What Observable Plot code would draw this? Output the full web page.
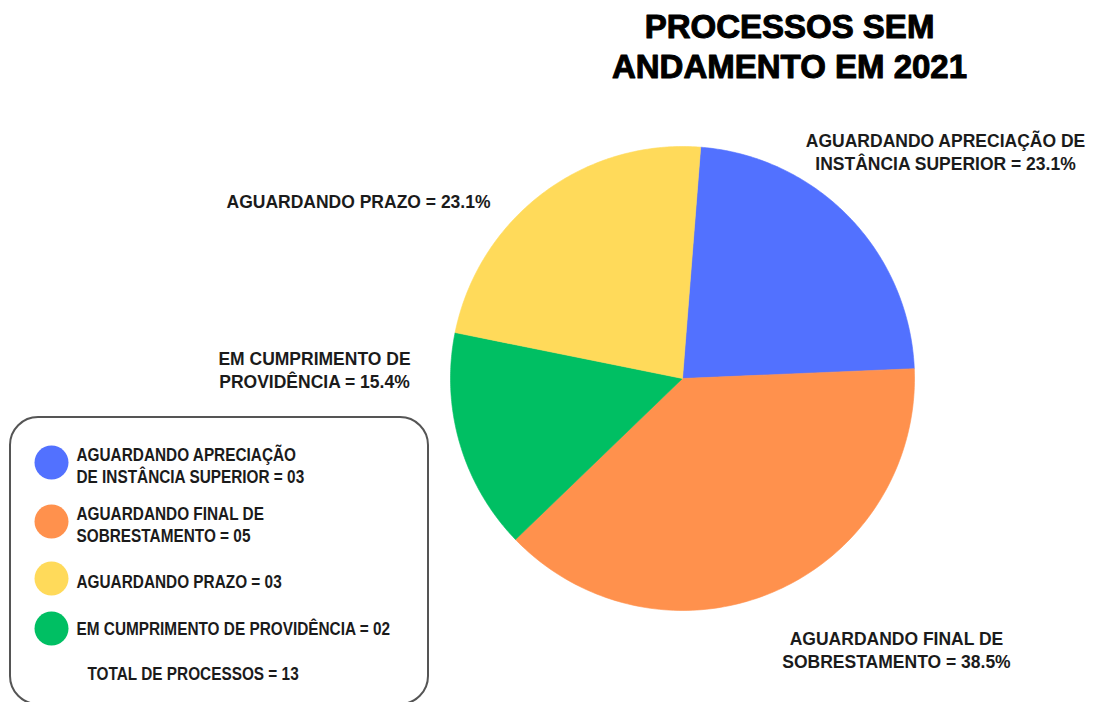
<!DOCTYPE html>
<html>
<head>
<meta charset="utf-8">
<script src="https://cdn.jsdelivr.net/npm/d3@7"></script>
<script src="https://cdn.jsdelivr.net/npm/@observablehq/plot@0.6"></script>
<style>
  html, body { margin: 0; padding: 0; background: #fff; }
  #chart svg { display: block; }
</style>
</head>
<body>
<div id="chart"></div>
<script>
// ---- data ----
const categories = [
  "AGUARDANDO APRECIAÇÃO DE INSTÂNCIA SUPERIOR",
  "AGUARDANDO FINAL DE SOBRESTAMENTO",
  "AGUARDANDO PRAZO",
  "EM CUMPRIMENTO DE PROVIDÊNCIA"
];
const counts = [3, 5, 3, 2];
const colors = ["#5271FF", "#FF914D", "#FFDA5A", "#00BF63"];
// clockwise order of the slices in the pie (starting near 12 o'clock)
const pieOrder = [
  "AGUARDANDO APRECIAÇÃO DE INSTÂNCIA SUPERIOR",
  "AGUARDANDO FINAL DE SOBRESTAMENTO",
  "EM CUMPRIMENTO DE PROVIDÊNCIA",
  "AGUARDANDO PRAZO"
];
const pieLabelText = [
  "AGUARDANDO APRECIAÇÃO DE\nINSTÂNCIA SUPERIOR",
  "AGUARDANDO FINAL DE\nSOBRESTAMENTO",
  "AGUARDANDO PRAZO",
  "EM CUMPRIMENTO DE\nPROVIDÊNCIA"
];
const legendLabelText = [
  "AGUARDANDO APRECIAÇÃO\nDE INSTÂNCIA SUPERIOR",
  "AGUARDANDO FINAL DE\nSOBRESTAMENTO",
  "AGUARDANDO PRAZO",
  "EM CUMPRIMENTO DE PROVIDÊNCIA"
];
const titleText = "PROCESSOS SEM\nANDAMENTO EM 2021";
const totalLabel = "TOTAL DE PROCESSOS";

// ---- layout (pixel space) ----
const W = 1099, H = 702;
const cx = 682, cy = 378, R = 232;
const startDeg = 4.5;
const pieLabelPos = [[945, 151], [896, 649], [358, 200], [314, 369]];
const legendRowY = [464, 523, 580, 627];
const legendDotY = [462, 521, 578, 628];
const legendSqueeze = 0.83;

const total = d3.sum(counts);
const pct = counts.map(c => (c / total * 100).toFixed(1) + "%");
const pad2 = n => String(n).padStart(2, "0");

const pieCounts = pieOrder.map(c => counts[categories.indexOf(c)]);
const a0 = startDeg * Math.PI / 180;
const arcs = d3.pie().sort(null).startAngle(a0).endAngle(a0 + 2 * Math.PI)(pieCounts);
const slicePts = [];
arcs.forEach((a, i) => {
  const cat = pieOrder[i];
  slicePts.push({cat, x: cx, y: cy});
  const n = 120;
  for (let k = 0; k <= n; k++) {
    const t = a.startAngle + (a.endAngle - a.startAngle) * k / n;
    slicePts.push({cat, x: cx + R * Math.sin(t), y: cy - R * Math.cos(t)});
  }
  slicePts.push({cat, x: cx, y: cy});
});

const pieLabels = categories.map((c, i) => ({
  text: pieLabelText[i] + " = " + pct[i], x: pieLabelPos[i][0], y: pieLabelPos[i][1]
}));
const legendRows = categories.map((c, i) => ({
  cat: c, text: legendLabelText[i] + " = " + pad2(counts[i]), y: legendRowY[i], dy: legendDotY[i]
}));
legendRows.push({cat: null, text: totalLabel + " = " + total, y: 672, x: 87});

const labelFont = {fontFamily: "Liberation Sans, Arial, sans-serif", fontWeight: "bold", fontSize: 17.5, fill: "#1b1b1b"};
const legendFont = {fontFamily: "Liberation Sans, Arial, sans-serif", fontWeight: "bold", fontSize: 18.5, fill: "#1b1b1b"};

const chart = Plot.plot({
  width: W,
  height: H,
  margin: 0,
  x: {domain: [0, W], range: [0, W], axis: null},
  y: {domain: [0, H], range: [0, H], axis: null},
  color: {domain: categories, range: colors},
  style: {background: "#fff"},
  marks: [
    Plot.line(slicePts, {x: "x", y: "y", z: "cat", fill: "cat", stroke: "cat", strokeWidth: 0.6, curve: "linear"}),
    Plot.text([titleText], {x: () => 789, y: () => 45, text: d => d, textAnchor: "middle", lineAnchor: "middle",
      lineHeight: 1.21, fontFamily: "Liberation Sans, Arial, sans-serif", fontWeight: "bold", fontSize: 33,
      fill: "#000", stroke: "#000", strokeWidth: 1}),
    Plot.text(pieLabels, {x: "x", y: "y", text: "text", textAnchor: "middle", lineAnchor: "middle", lineHeight: 1.3, ...labelFont}),
    Plot.rect([{x1: 10, x2: 428, y1: 417, y2: 704}], {x1: "x1", x2: "x2", y1: "y1", y2: "y2", rx: 28,
      fill: "none", stroke: "#555", strokeWidth: 2}),
    Plot.dot(legendRows.filter(d => d.cat), {x: () => 51, y: "dy", r: 17, fill: "cat", stroke: null}),
    Plot.text(legendRows, {x: d => d.x ?? 76, y: "y", text: "text", textAnchor: "start", lineAnchor: "middle", lineHeight: 1.2,
      ...legendFont})
  ]
});
// condensed look for the legend typeface
const legendStrings = new Set(legendRows.map(d => d.text.replace(/\n/g, "")));
chart.querySelectorAll("text").forEach(t => {
  if (legendStrings.has(t.textContent)) {
    const tr = t.getAttribute("transform") || "";
    t.setAttribute("transform", tr + ` scale(${legendSqueeze},1)`);
  }
});
document.getElementById("chart").appendChild(chart);
</script>
</body>
</html>
